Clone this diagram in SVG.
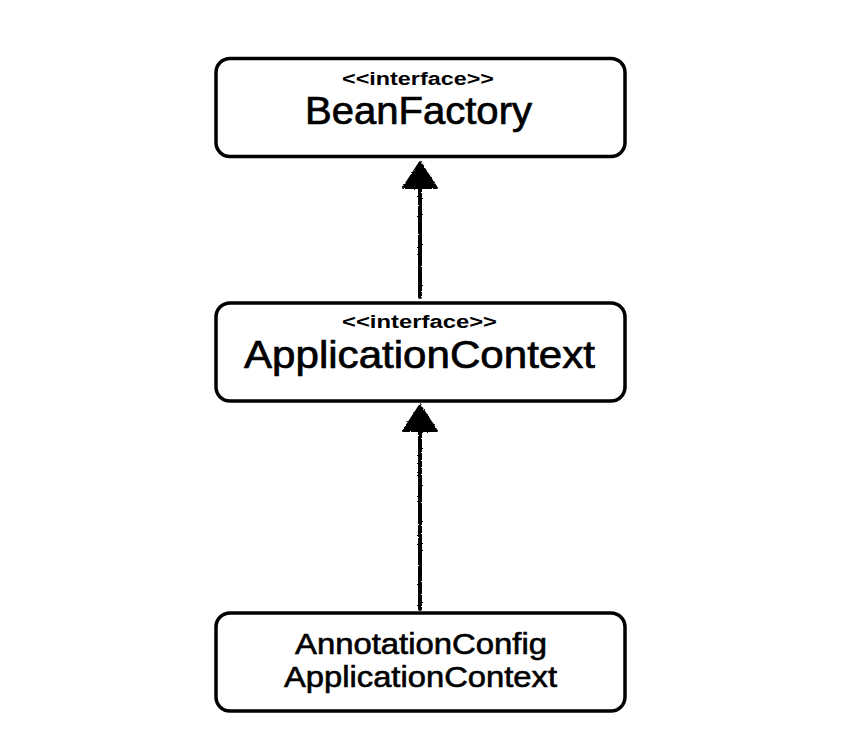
<svg xmlns="http://www.w3.org/2000/svg" width="860" height="756" viewBox="0 0 860 756">
  <style>
    .box { fill: #ffffff; stroke: #000000; stroke-width: 3.5; }
    .stereo { font-family: "Liberation Sans", Arial, sans-serif; font-weight: bold; font-size: 18px; fill: #000; }
    .title { font-family: "Liberation Sans", Arial, sans-serif; font-size: 38px; fill: #000; stroke: #000; stroke-width: 0.7; }
    .small { font-family: "Liberation Sans", Arial, sans-serif; font-size: 29px; fill: #000; stroke: #000; stroke-width: 0.6; }
    .edge { stroke: #000; stroke-width: 4; fill: none; stroke-linecap: round; }
    .head { fill: #000; stroke: #000; stroke-width: 2; stroke-linejoin: round; }
  </style>
  <defs>
    <filter id="rough" x="-20%" y="-5%" width="140%" height="110%">
      <feTurbulence type="fractalNoise" baseFrequency="0.9" numOctaves="2" seed="3" result="n"/>
      <feDisplacementMap in="SourceGraphic" in2="n" scale="2.5" xChannelSelector="R" yChannelSelector="G"/>
    </filter>
  </defs>
  <rect width="860" height="756" fill="#ffffff"/>

  <g id="connectors" filter="url(#rough)">
    <g id="edge-appctx-beanfactory">
      <line class="edge" x1="420" y1="297" x2="420" y2="184"/>
      <polygon class="head" points="420,162 437,188 403,188"/>
    </g>
    <g id="edge-annot-appctx">
      <line class="edge" x1="420" y1="609" x2="420" y2="428"/>
      <polygon class="head" points="420,405 437,431 403,431"/>
    </g>
  </g>

  <g id="node-beanfactory">
    <rect class="box" x="216" y="58.5" width="409" height="98" rx="14" ry="14"/>
    <text class="stereo" x="418" y="85" text-anchor="middle" textLength="152" lengthAdjust="spacingAndGlyphs">&lt;&lt;interface&gt;&gt;</text>
    <text class="title" x="418.5" y="123.5" text-anchor="middle" textLength="227" lengthAdjust="spacingAndGlyphs">BeanFactory</text>
  </g>

  <g id="node-applicationcontext">
    <rect class="box" x="216" y="303" width="409" height="98" rx="14" ry="14"/>
    <text class="stereo" x="419.5" y="327.5" text-anchor="middle" textLength="155" lengthAdjust="spacingAndGlyphs">&lt;&lt;interface&gt;&gt;</text>
    <text class="title" x="419.5" y="367.5" text-anchor="middle" textLength="351" lengthAdjust="spacingAndGlyphs">ApplicationContext</text>
  </g>

  <g id="node-annotationconfigapplicationcontext">
    <rect class="box" x="216" y="613" width="409" height="98" rx="14" ry="14"/>
    <text class="small" x="421" y="653.5" text-anchor="middle" textLength="252" lengthAdjust="spacingAndGlyphs">AnnotationConfig</text>
    <text class="small" x="420.5" y="686.5" text-anchor="middle" textLength="273" lengthAdjust="spacingAndGlyphs">ApplicationContext</text>
  </g>
</svg>
